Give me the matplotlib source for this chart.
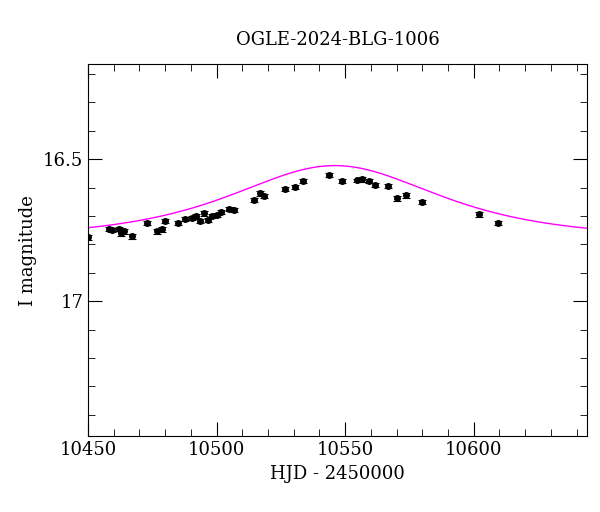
import matplotlib
matplotlib.use('Agg')
import matplotlib.pyplot as plt
import numpy as np
from matplotlib.ticker import MultipleLocator, FixedLocator

plt.rcParams['font.family'] = 'DejaVu Serif'

hjd = [10450.0, 10458.1, 10459.3, 10462.0, 10462.8, 10463.9, 10467.0, 10472.9,
       10476.7, 10478.7, 10479.8, 10484.9, 10487.6, 10490.3, 10491.9, 10493.4,
       10495.0, 10496.5, 10498.1, 10500.0, 10501.6, 10504.7, 10506.6, 10514.7,
       10516.7, 10518.6, 10526.7, 10530.6, 10533.7, 10543.8, 10548.8, 10554.7,
       10556.6, 10559.3, 10561.6, 10566.7, 10570.2, 10573.6, 10579.8, 10601.9,
       10609.6]
mag = [16.775, 16.746, 16.750, 16.746, 16.761, 16.754, 16.771, 16.725,
       16.754, 16.746, 16.718, 16.725, 16.711, 16.708, 16.701, 16.718,
       16.690, 16.715, 16.701, 16.697, 16.687, 16.676, 16.680, 16.644,
       16.620, 16.630, 16.606, 16.599, 16.577, 16.556, 16.577, 16.574,
       16.570, 16.577, 16.592, 16.595, 16.637, 16.627, 16.651, 16.694,
       16.725]
err = [0.009, 0.008, 0.008, 0.008, 0.010, 0.008, 0.009, 0.007,
       0.009, 0.009, 0.008, 0.008, 0.007, 0.007, 0.007, 0.007,
       0.009, 0.007, 0.007, 0.007, 0.007, 0.007, 0.007, 0.008,
       0.008, 0.007, 0.007, 0.007, 0.006, 0.006, 0.007, 0.006,
       0.009, 0.007, 0.007, 0.008, 0.009, 0.008, 0.007, 0.008,
       0.008]

# point-lens model parameters
t0, tE, u0, i_base = 10546.0, 46.0, 1.12, 16.78

t = np.linspace(10450, 10644, 500)
u = np.sqrt(u0**2 + ((t - t0) / tE)**2)
A = (u**2 + 2) / (u * np.sqrt(u**2 + 4))
model = i_base - 2.5 * np.log10(A)

fig = plt.figure(figsize=(6, 5.12), dpi=100)
ax = fig.add_axes([0.1467, 0.148, 0.8313, 0.727])
ax.plot(t, model, color='#ff00ff', lw=1)
ax.errorbar(hjd, mag, yerr=err, fmt='o', color='black', ms=4,
            ecolor='black', elinewidth=0.8, capsize=3, capthick=0.8)

ax.set_xlim(10450, 10644)
ax.set_ylim(17.475, 16.165)
ax.xaxis.set_major_locator(MultipleLocator(50))
ax.xaxis.set_minor_locator(MultipleLocator(10))
ax.yaxis.set_major_locator(FixedLocator([16.5, 17.0]))
ax.yaxis.set_minor_locator(MultipleLocator(0.1))
ax.set_yticklabels(['16.5', '17'])
ax.tick_params(which='both', direction='in', top=True, right=True, labelsize=13)
ax.tick_params(which='major', length=10)
ax.tick_params(which='minor', length=5)

ax.set_xlabel('HJD - 2450000', fontsize=13)
ax.set_ylabel('I magnitude', fontsize=13)
ax.set_title('OGLE-2024-BLG-1006', fontsize=13, pad=14)

fig.savefig('out.png', dpi=100)
